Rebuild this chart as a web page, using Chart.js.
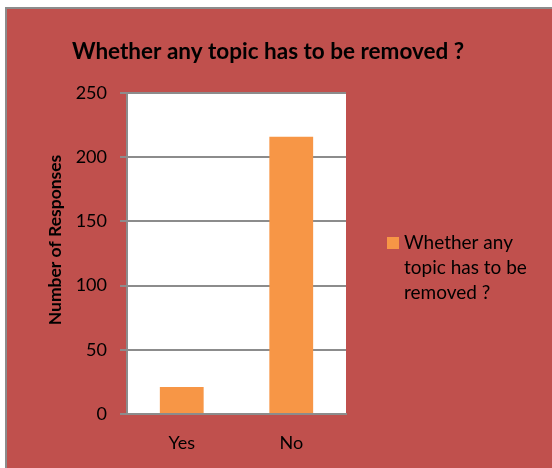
<!DOCTYPE html>
<html><head><meta charset="utf-8">
<script src="https://cdn.jsdelivr.net/npm/chart.js@4/dist/chart.umd.min.js"></script>
<style>
html,body{margin:0;padding:0;background:#fff;width:552px;height:468px;overflow:hidden}
#frame{position:absolute;left:5px;top:7px;width:545px;height:459px;border-left:2px solid #8c8c8c;border-top:2px solid #8c8c8c;background:#C0504D}
canvas{display:block}
</style></head>
<body>
<div id="frame"><canvas id="c" width="545" height="459"></canvas></div>
<script>
const categories = ["Yes", "No"];
const seriesName = "Whether any topic has to be removed ?";
const values = [21, 216];
const yTicks = [0, 50, 100, 150, 200, 250];
const chartTitle = "Whether any topic has to be removed ?";
const yTitle = "Number of Responses";
const legendLines = ["Whether any", "topic has to be", "removed ?"];

const FONT = "Lato, 'Open Sans', sans-serif";

const decor = {
  id: 'decor',
  beforeDraw(chart) {
    const {ctx, chartArea: a} = chart;
    ctx.save();
    ctx.fillStyle = '#ffffff';
    ctx.fillRect(a.left, a.top, a.right - a.left, a.bottom - a.top);
    ctx.restore();
  },
  afterDraw(chart) {
    const {ctx} = chart;
    ctx.save();
    ctx.fillStyle = '#000';
    // title
    ctx.font = "bold 22.5px " + FONT;
    ctx.textAlign = 'center';
    ctx.textBaseline = 'alphabetic';
    ctx.fillText(chartTitle, 261, 50);
    // y title
    ctx.save();
    ctx.translate(54, 231);
    ctx.rotate(-Math.PI / 2);
    ctx.font = "bold 17.5px " + FONT;
    ctx.textAlign = 'center';
    ctx.textBaseline = 'alphabetic';
    ctx.fillText(yTitle, 0, 0);
    ctx.restore();
    // legend
    const ds = chart.data.datasets[0];
    ctx.fillStyle = ds.backgroundColor;
    ctx.fillRect(380, 228, 12, 12);
    ctx.fillStyle = '#000';
    ctx.font = "19px " + FONT;
    ctx.textAlign = 'left';
    ctx.textBaseline = 'middle';
    legendLines.forEach((t, i) => ctx.fillText(t, 397, 234 + i * 25));
    ctx.restore();
  }
};

new Chart(document.getElementById('c'), {
  type: 'bar',
  data: {
    labels: categories,
    datasets: [{
      label: seriesName,
      data: values,
      backgroundColor: '#F79646',
      borderWidth: 0,
      barPercentage: 0.4,
      categoryPercentage: 1.0
    }]
  },
  options: {
    responsive: false,
    animation: false,
    devicePixelRatio: 1,
    layout: {padding: {left: 0, right: 206, top: 84, bottom: 0}},
    plugins: {legend: {display: false}, tooltip: {enabled: false}, title: {display: false}},
    scales: {
      y: {
        min: 0, max: 250,
        afterBuildTicks(scale) { scale.ticks = yTicks.map(v => ({value: v})); },
        afterFit(scale) { scale.width = 120; },
        ticks: {color: '#000', font: {family: FONT, size: 18}, padding: 13},
        grid: {color: '#8c8c8c', lineWidth: 2, tickLength: 7},
        border: {color: '#8c8c8c', width: 2}
      },
      x: {
        afterFit(scale) { scale.height = 54; },
        ticks: {color: '#000', font: {family: FONT, size: 18}, padding: 18},
        grid: {display: false, drawTicks: false},
        border: {color: '#8c8c8c', width: 2}
      }
    }
  },
  plugins: [decor]
});
</script>
</body></html>
